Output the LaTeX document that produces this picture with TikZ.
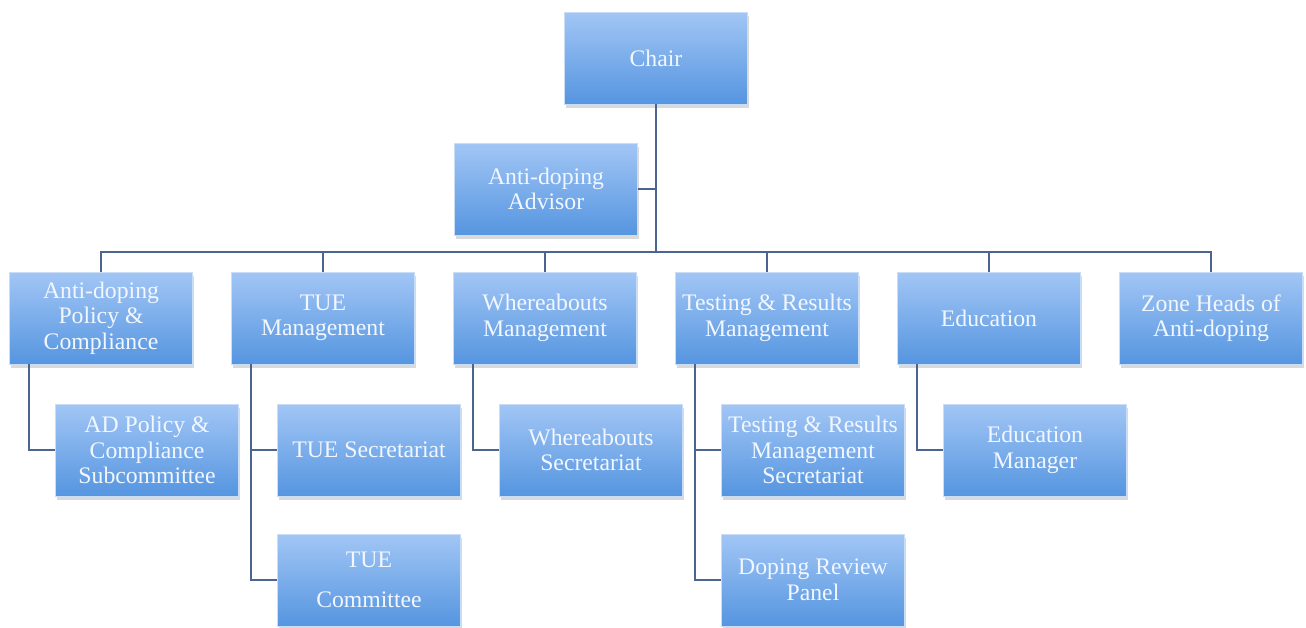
\documentclass[tikz,border=0pt]{standalone}
\usepackage{fontspec}
\setmainfont{Liberation Serif}
\definecolor{boxTop}{HTML}{A2C6F5}
\definecolor{boxBot}{HTML}{5595E0}
\definecolor{boxEdge}{HTML}{C9DDF6}
\definecolor{boxText}{HTML}{F2F7FF}
\definecolor{lineCol}{HTML}{4A6690}
\usepackage{tikz}
\usetikzlibrary{calc,shadows}

\begin{document}
\begin{tikzpicture}[
  x=0.02cm, y=-0.02cm,
  unit/.style={draw=boxEdge, line width=0.4pt, top color=boxTop, bottom color=boxBot,
    text=boxText, minimum width=3.66cm, minimum height=1.84cm, inner sep=0pt,
    align=center, font=\fontsize{13.5pt}{14.5pt}\selectfont,
    drop shadow={opacity=0.3, shadow xshift=1pt, shadow yshift=-2.5pt}},
  conn/.style={draw=lineCol, line width=1.1pt}
]
  \useasboundingbox (0,0) rectangle (1306,628);

  % Top
  \node[unit] (chair) at (656,58) {Chair};
  \node[unit] (advisor) at (546,189) {Anti-doping\\Advisor};

  % Departments
  \node[unit] (policy) at (101,318) {Anti-doping\\Policy \&\\Compliance};
  \node[unit] (tue) at (323,318) {TUE\\Management};
  \node[unit] (where) at (545,318) {Whereabouts\\Management};
  \node[unit] (testing) at (767,318) {Testing \& Results\\Management};
  \node[unit] (edu) at (989,318) {Education};
  \node[unit] (zone) at (1211,318) {Zone Heads of\\Anti-doping};

  % Second level
  \node[unit] (adpolicy) at (147,450) {AD Policy \&\\Compliance\\Subcommittee};
  \node[unit] (tuesec) at (369,450) {TUE Secretariat};
  \node[unit] (wheresec) at (591,450) {Whereabouts\\Secretariat};
  \node[unit] (testsec) at (813,450) {Testing \& Results\\Management\\Secretariat};
  \node[unit] (edumgr) at (1035,450) {Education\\Manager};

  % Third level
  \node[unit] (tuecom) at (369,580) {TUE\\[8pt]Committee};
  \node[unit] (review) at (813,580) {Doping Review\\Panel};

  \coordinate (bus) at (656,252);

  \draw[conn] (chair.south) -- (bus);
  \draw[conn] (advisor.east) -- (advisor.east -| bus);
  \foreach \n in {policy,tue,where,testing,edu,zone}
    \draw[conn] (\n.north) |- (bus);

  \draw[conn] ($(policy.south west)+(20,0)$) |- (adpolicy.west);
  \draw[conn] ($(tue.south west)+(20,0)$) |- (tuesec.west);
  \draw[conn] ($(tue.south west)+(20,0)$) |- (tuecom.west);
  \draw[conn] ($(where.south west)+(20,0)$) |- (wheresec.west);
  \draw[conn] ($(testing.south west)+(20,0)$) |- (testsec.west);
  \draw[conn] ($(testing.south west)+(20,0)$) |- (review.west);
  \draw[conn] ($(edu.south west)+(20,0)$) |- (edumgr.west);
\end{tikzpicture}
\end{document}
